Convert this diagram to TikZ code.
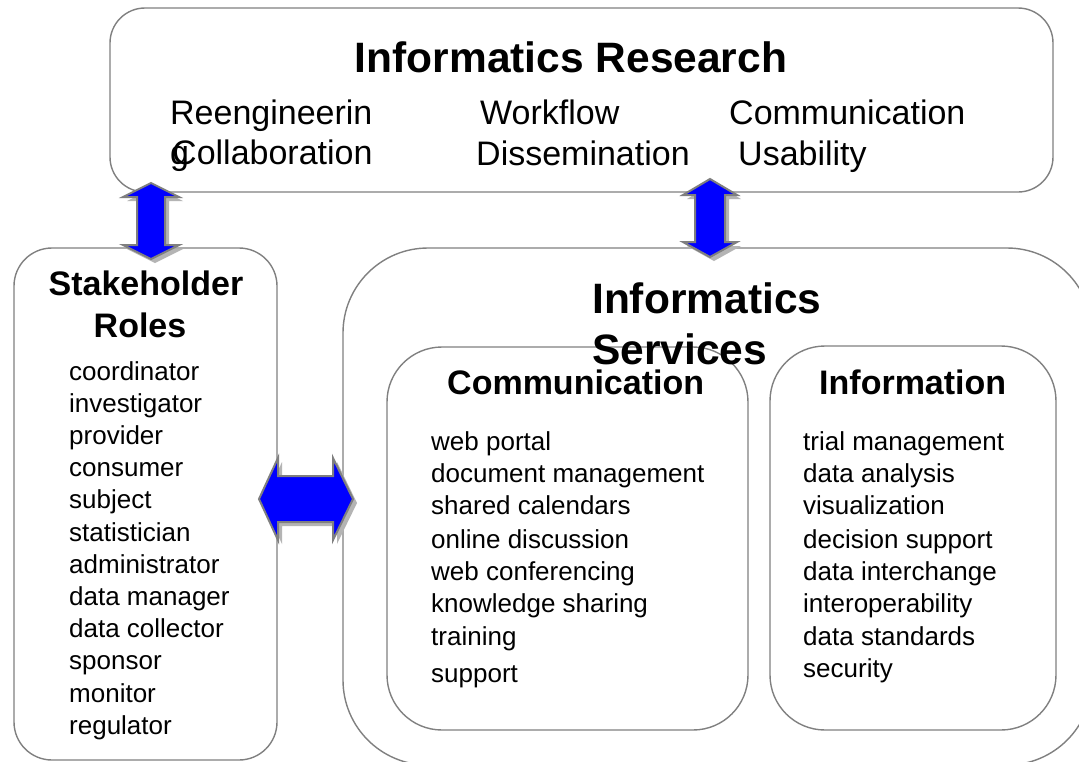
\documentclass[tikz,border=0pt]{standalone}
\usepackage{fontspec}
\setmainfont{Liberation Sans}
\definecolor{boxgray}{HTML}{808080}
\definecolor{arrowgray}{HTML}{7F7F7F}
\definecolor{shadowgray}{HTML}{B4B4B4}
\definecolor{arrowblue}{HTML}{0000FF}
\tikzset{
  box/.style={draw=boxgray, line width=1.4pt, fill=none, inner sep=0pt, outer sep=0pt, anchor=north west},
  item/.style={anchor=base west, inner sep=0pt, font=\fontsize{26}{30}\selectfont},
  word/.style={anchor=base west, inner sep=0pt, font=\fontsize{34}{40}\selectfont},
  head/.style={anchor=base west, inner sep=0pt, font=\fontsize{34}{40}\selectfont\bfseries},
  bighead/.style={anchor=base west, inner sep=0pt, font=\fontsize{42.5}{50}\selectfont\bfseries},
  arrowbody/.style={fill=arrowblue, draw=arrowgray, line width=2pt, line join=miter},
  arrowshadow/.style={fill=shadowgray, shift={(4,4)}}
}
\def\vpath#1#2#3#4#5#6#7{(#1,#2) -- (#1+#6,#3) -- (#1+#7,#3) -- (#1+#7,#4) -- (#1+#6,#4) -- (#1,#5) -- (#1-#6,#4) -- (#1-#7,#4) -- (#1-#7,#3) -- (#1-#6,#3) -- cycle}
\def\hpath#1#2#3#4#5#6#7{(#2,#1) -- (#3,#1-#6) -- (#3,#1-#7) -- (#4,#1-#7) -- (#4,#1-#6) -- (#5,#1) -- (#4,#1+#6) -- (#4,#1+#7) -- (#3,#1+#7) -- (#3,#1+#6) -- cycle}
\begin{document}
\begin{tikzpicture}[x=1pt, y=-1pt]
\useasboundingbox (0,0) rectangle (1079,761);
\clip (0,0) rectangle (1079,761);
\fill[white] (0,0) rectangle (1079,761);

% boxes
\node[box, rounded corners=35pt, minimum width=943pt, minimum height=184pt] (research) at (110,8) {};
\node[box, rounded corners=38pt, minimum width=263pt, minimum height=512pt] (roles) at (14,248) {};
\node[box, rounded corners=85pt, minimum width=749pt, minimum height=517pt] (services) at (343,248) {};
\node[box, rounded corners=55pt, minimum width=361pt, minimum height=383pt] (comm) at (387,347) {};
\node[box, rounded corners=55pt, minimum width=286pt, minimum height=384pt] (info) at (770,346) {};

% research box text
\node[bighead, anchor=base] (restitle) at (571,72) {Informatics Research};
\node[word] (w1) at (170,124) {Reengineerin};
\node[word] (w1g) at (170,164) {g};
\node[word] (w2) at (172,164) {Collaboration};
\node[word] (w3) at (480,124) {Workflow};
\node[word] (w4) at (476,165) {Dissemination};
\node[word] (w5) at (729,124) {Communication};
\node[word] (w6) at (738,165) {Usability};

% stakeholder roles
\node[head, anchor=base] (rt1) at (146,295) {Stakeholder};
\node[head, anchor=base] (rt2) at (140,337) {Roles};
\foreach \t [count=\i] in {coordinator,investigator,provider,consumer,subject,statistician,administrator,data manager,data collector,sponsor,monitor,regulator}
  \node[item] (role\i) at (69,{380+(\i-1)*32.2}) {\t};

% services
\node[bighead] (st1) at (592,313) {Informatics};
\node[bighead] (st2) at (592,364) {Services};
\node[head] (ct) at (447,394) {Communication};
\node[head] (it) at (819,394) {Information};
\foreach \t/\y [count=\i] in {web portal/450,document management/482,shared calendars/514,online discussion/548,web conferencing/580,knowledge sharing/612,training/645,support/682}
  \node[item] (comm\i) at (431,\y) {\t};
\foreach \t/\y [count=\i] in {trial management/450,data analysis/482,visualization/514,decision support/548,data interchange/580,interoperability/612,data standards/645,security/677}
  \node[item] (info\i) at (803,\y) {\t};

% block arrows
\fill[arrowshadow] \vpath{151}{183}{197}{245}{259}{28}{14};
\filldraw[arrowbody] \vpath{151}{183}{197}{245}{259}{28}{14};
\fill[arrowshadow] \vpath{710}{179}{195}{242}{257}{27}{15};
\filldraw[arrowbody] \vpath{710}{179}{195}{242}{257}{27}{15};
\fill[arrowshadow] \hpath{499}{259}{278}{333}{353}{41}{23};
\filldraw[arrowbody] \hpath{499}{259}{278}{333}{353}{41}{23};
\end{tikzpicture}
\end{document}
